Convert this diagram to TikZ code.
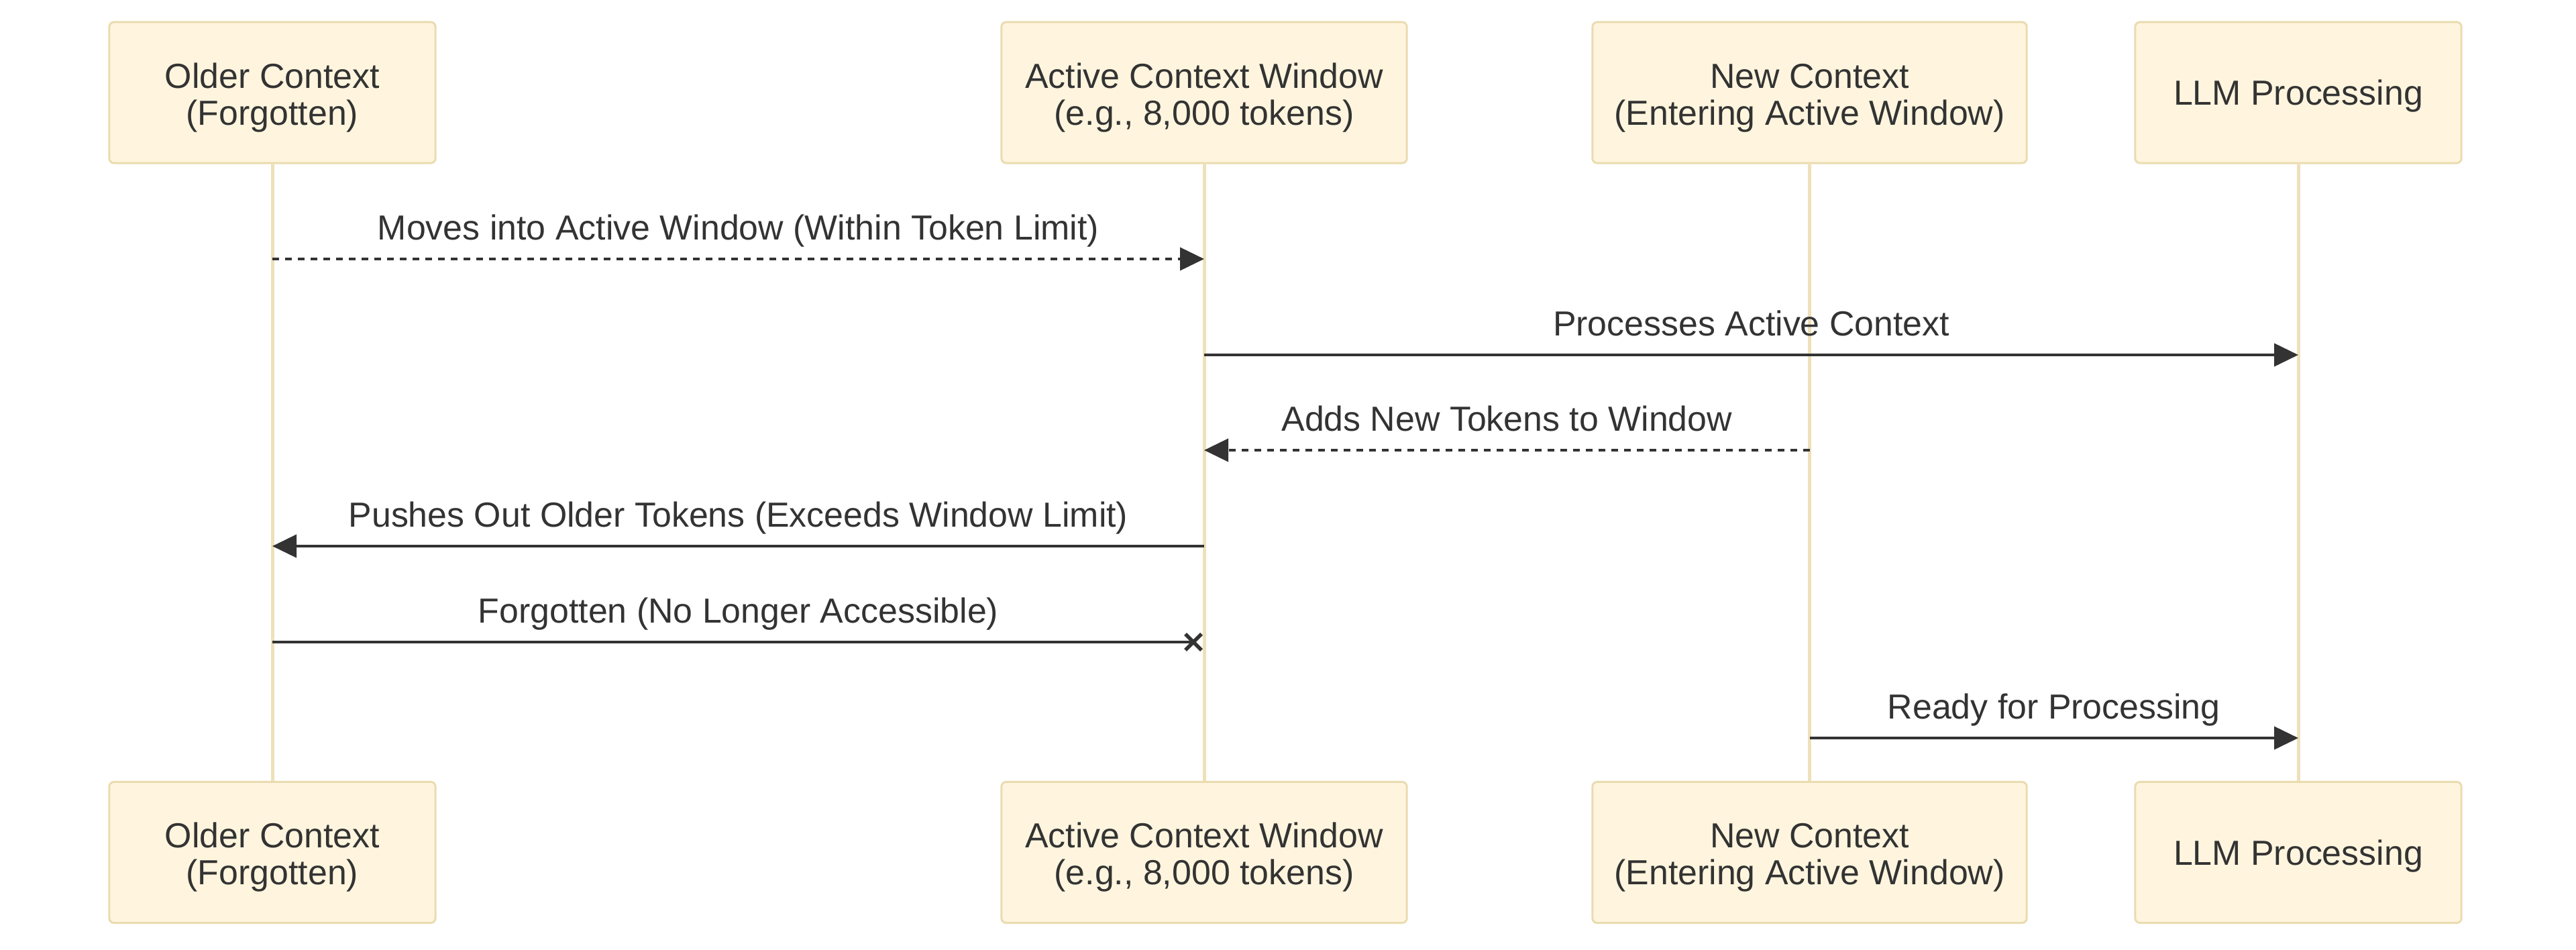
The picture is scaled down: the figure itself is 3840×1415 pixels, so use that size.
\documentclass[tikz,border=0pt]{standalone}
\usepackage{fontspec}
\setmainfont{Liberation Sans}
\usetikzlibrary{arrows.meta,positioning}
\definecolor{boxfill}{HTML}{FFF5DE}
\definecolor{boxline}{HTML}{EADCB0}
\definecolor{lifecol}{HTML}{EEE0B8}
\definecolor{ink}{HTML}{333333}
\newcommand{\seqfont}{\fontsize{14.75}{15.6}\selectfont}
\newcommand{\tallstrut}{\rule{0pt}{14.8pt}}
\begin{document}
\begin{tikzpicture}[x=0.01cm,y=-0.01cm,
    actor/.style={draw=boxline, fill=boxfill, line width=0.03cm, rounded corners=0.07cm,
      minimum height=2.1cm, align=center, text=ink, font=\seqfont},
    lifeline/.style={draw=lifecol, line width=0.05cm},
    msg/.style={draw=ink, line width=0.04cm, -{Triangle[length=0.36cm,width=0.34cm]}},
    reply/.style={msg, dash pattern=on 0.1cm off 0.09cm},
    lbl/.style={midway, anchor=base, yshift=0.28cm, text=ink, font=\seqfont}]
    \fill[white] (0,0) rectangle (3840,1415);
    \useasboundingbox (0,0) rectangle (3840,1415);
    \node[actor, minimum width=4.86cm] (oldT) at (406,138) {\tallstrut Older Context\\(Forgotten)};
    \node[actor, minimum width=6.04cm] (actT) at (1795,138) {\tallstrut Active Context Window\\(e.g., 8,000 tokens)};
    \node[actor, minimum width=6.47cm] (newT) at (2697.5,138) {\tallstrut New Context\\(Entering Active Window)};
    \node[actor, minimum width=4.86cm] (llmT) at (3426,138) {\rule{0pt}{13.7pt}LLM Processing};
    \node[actor, minimum width=4.86cm] (oldB) at (406,1270.5) {\tallstrut Older Context\\(Forgotten)};
    \node[actor, minimum width=6.04cm] (actB) at (1795,1270.5) {\tallstrut Active Context Window\\(e.g., 8,000 tokens)};
    \node[actor, minimum width=6.47cm] (newB) at (2697.5,1270.5) {\tallstrut New Context\\(Entering Active Window)};
    \node[actor, minimum width=4.86cm] (llmB) at (3426,1270.5) {\rule{0pt}{13.7pt}LLM Processing};
    \draw[lifeline] (oldT) -- (oldB);
    \draw[lifeline] (actT) -- (actB);
    \draw[lifeline] (newT) -- (newB);
    \draw[lifeline] (llmT) -- (llmB);
    \coordinate (r1) at (0,386);
    \coordinate (r2) at (0,529);
    \coordinate (r3) at (0,671);
    \coordinate (r4) at (0,814);
    \coordinate (r5) at (0,957);
    \coordinate (r6) at (0,1100);
    \draw[reply] (oldT |- r1) -- node[lbl] {Moves into Active Window (Within Token Limit)} (actT |- r1);
    \draw[msg] (actT |- r2) -- node[lbl] {Processes Active Context} (llmT |- r2);
    \draw[reply] (newT |- r3) -- node[lbl] {Adds New Tokens to Window} (actT |- r3);
    \draw[msg] (actT |- r4) -- node[lbl] {Pushes Out Older Tokens (Exceeds Window Limit)} (oldT |- r4);
    \path (oldT |- r5) -- node[lbl] {Forgotten (No Longer Accessible)} (actT |- r5);
    \coordinate[left=0.16cm of actT |- r5] (lost);
    \draw[ink, line width=0.04cm] (oldT |- r5) -- (lost);
    \draw[ink, line width=0.055cm] ([shift={(-12,-12)}]lost) -- ([shift={(12,12)}]lost)
      ([shift={(-12,12)}]lost) -- ([shift={(12,-12)}]lost);
    \draw[msg] (newT |- r6) -- node[lbl] {Ready for Processing} (llmT |- r6);
\end{tikzpicture}
\end{document}
